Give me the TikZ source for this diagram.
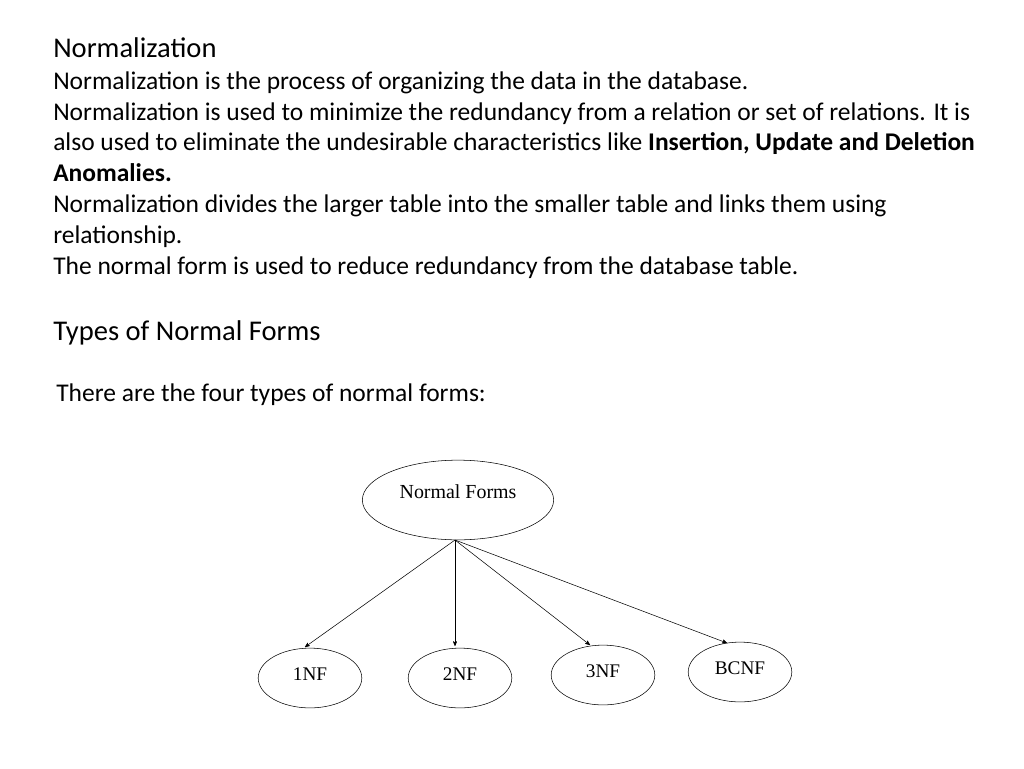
\documentclass[tikz,border=0pt]{standalone}
\usepackage{fontspec}
\setmainfont{Carlito}
\newfontfamily\serifnf{Liberation Serif}
\usetikzlibrary{arrows, shapes.geometric}

\begin{document}
\begin{tikzpicture}[x=0.02646cm, y=-0.02646cm, >=stealth', thick]
    \tikzstyle{line}=[anchor=base west, inner sep=0pt, font=\fontsize{19.2}{23}\selectfont]
    \tikzstyle{form}=[ellipse, draw, thin, minimum width=78pt, minimum height=45pt,
                      inner sep=0pt, text depth=6pt, font=\serifnf\fontsize{14.5}{17}\selectfont]
    \tikzstyle{every path}=[->, thin, black]

    \useasboundingbox (0,0) rectangle (1024,768);

    % heading and text
    \node[line, font=\fontsize{21.5}{25}\selectfont] (title) at (53,57) {Normalization};
    \node[line] (l1) at (53,89)  {Normalization is the process of organizing the data in the database.};
    \node[line] (l2) at (53,120) {Normalization is used to minimize the redundancy from a relation or set of relations. It is};
    \node[line] (l3) at (53,150) {also used to eliminate the undesirable characteristics like \textbf{Insertion, Update and Deletion}};
    \node[line] (l4) at (53,181) {\textbf{Anomalies.}};
    \node[line] (l5) at (53,212) {Normalization divides the larger table into the smaller table and links them using};
    \node[line] (l6) at (53,243) {relationship.};
    \node[line] (l7) at (53,274) {The normal form is used to reduce redundancy from the database table.};
    \node[line, font=\fontsize{21.5}{25}\selectfont] (types) at (53,340) {Types of Normal Forms};
    \node[line] (l8) at (56,401) {There are the four types of normal forms:};

    % tree
    \node[form, minimum width=144pt, minimum height=60pt] (NF) at (458,500) {};
    \node[font=\serifnf\fontsize{15}{18}\selectfont] at (458,492) {Normal Forms};
    \node[form] (F1) at (310,678) {1NF};
    \node[form] (F2) at (460,678) {2NF};
    \node[form] (F3) at (603,675) {3NF};
    \node[form] (F4) at (740,672) {BCNF};

    \coordinate (root) at (455,540);
    \draw (root) -- (305,647);
    \draw (root) -- (455,646);
    \draw (root) -- (590,645);
    \draw (root) -- (727,643);
\end{tikzpicture}
\end{document}
